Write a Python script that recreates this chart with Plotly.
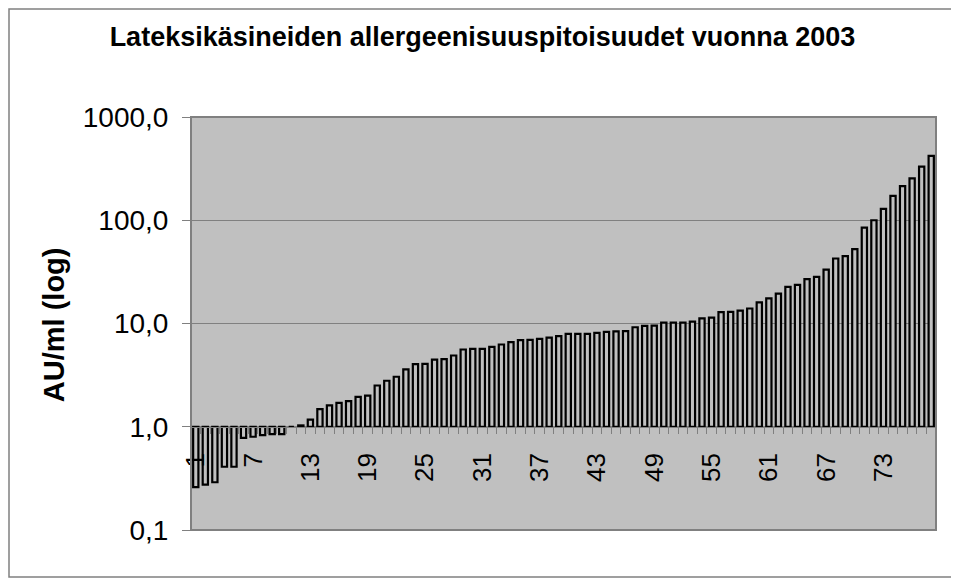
import plotly.graph_objects as go

# näytteet 1..78, allergeenipitoisuus AU/ml
sample_no = list(range(1, 79))
au_ml = [
    0.26, 0.275, 0.29, 0.41, 0.41, 0.78, 0.80, 0.83, 0.85, 0.85,
    1.0, 1.03, 1.17, 1.48, 1.61, 1.70, 1.77, 1.95, 2.0, 2.51,
    2.79, 3.05, 3.59, 4.04, 4.07, 4.47, 4.52, 4.9, 5.6, 5.69,
    5.69, 5.95, 6.26, 6.6, 6.9, 6.95, 7.1, 7.3, 7.55, 7.94,
    7.94, 7.94, 8.13, 8.3, 8.4, 8.44, 9.2, 9.5, 9.55, 10.2,
    10.2, 10.2, 10.45, 11.2, 11.4, 12.9, 12.95, 13.3, 13.97, 16.0,
    17.5, 19.5, 22.6, 23.7, 26.9, 28.3, 33.3, 42.6, 44.9, 52.5,
    85, 100, 129, 172, 214, 254, 331, 420,
]
x_ticks = list(range(1, 79, 6))
y_ticks = [0.1, 1, 10, 100, 1000]
y_ticktext = ["0,1", "1,0", "10,0", "100,0", "1000,0"]

FONT = "Liberation Sans, Arial, sans-serif"
GRAY = "#808080"

# sivun body-marginaali siirtää kuvaa 8 px, joten koko ja marginaalit pienemmät
W, H = 951, 571
L, T, R, B = 183, 109, 23, 49
pw, ph = W - L - R, H - T - B

fig = go.Figure()
# pylväät lähtevät tasolta 1,0 (kuten Excelissä)
fig.add_trace(go.Bar(
    x=sample_no,
    y=[v - 1 for v in au_ml],
    base=1,
    width=0.55,
    marker=dict(color="#C0C0C0", line=dict(color="black", width=2.2)),
    customdata=au_ml,
    hovertemplate="%{x}: %{customdata}<extra></extra>",
))

fig.update_layout(
    width=W, height=H,
    margin=dict(l=L, r=R, t=T, b=B),
    paper_bgcolor="white",
    plot_bgcolor="#C0C0C0",
    showlegend=False,
    font=dict(family=FONT, size=28, color="black"),
    title=dict(
        text="<b>Lateksikäsineiden allergeenisuuspitoisuudet vuonna 2003</b>",
        xref="container", x=474.5 / W, xanchor="center",
        yref="container", y=1 - 29 / H, yanchor="middle",
        font=dict(size=27),
    ),
)

fig.update_xaxes(
    range=[0.5, 78.5],
    anchor="free", position=0.25,
    tickvals=x_ticks,
    tickangle=-90,
    tickfont=dict(family="Liberation Sans Narrow, " + FONT, size=26),
    ticks="",
    ticklabelstandoff=15,
    showgrid=False, zeroline=False,
    showline=True, linecolor=GRAY, linewidth=1,
    minor=dict(ticks="outside", tick0=0.5, dtick=1, ticklen=6,
               tickcolor=GRAY, showgrid=False),
)
fig.update_yaxes(
    type="log", range=[-1, 3],
    tickvals=y_ticks, ticktext=y_ticktext,
    ticks="outside", ticklen=8, tickcolor=GRAY,
    ticklabelstandoff=8,
    showgrid=True, gridcolor=GRAY, gridwidth=1,
    zeroline=False, showline=False,
)

fig.add_annotation(
    text="<b>AU/ml (log)</b>", textangle=-90,
    xref="paper", x=(46 - L) / pw, xanchor="center",
    yref="paper", y=0.496, yanchor="middle",
    showarrow=False, font=dict(size=29),
)
# kuvaajan reunat ja koko kuvion kehys
fig.add_shape(type="rect", xref="paper", yref="paper", x0=0, x1=1, y0=0, y1=1,
              line=dict(color=GRAY, width=2), layer="above")
fig.add_shape(type="rect", xref="paper", yref="paper",
              x0=(1 - L) / pw, x1=(947 - L) / pw,
              y0=(ph - (569 - T)) / ph, y1=(ph - (1 - T)) / ph,
              line=dict(color=GRAY, width=1.5))

fig.write_html("out.html")
